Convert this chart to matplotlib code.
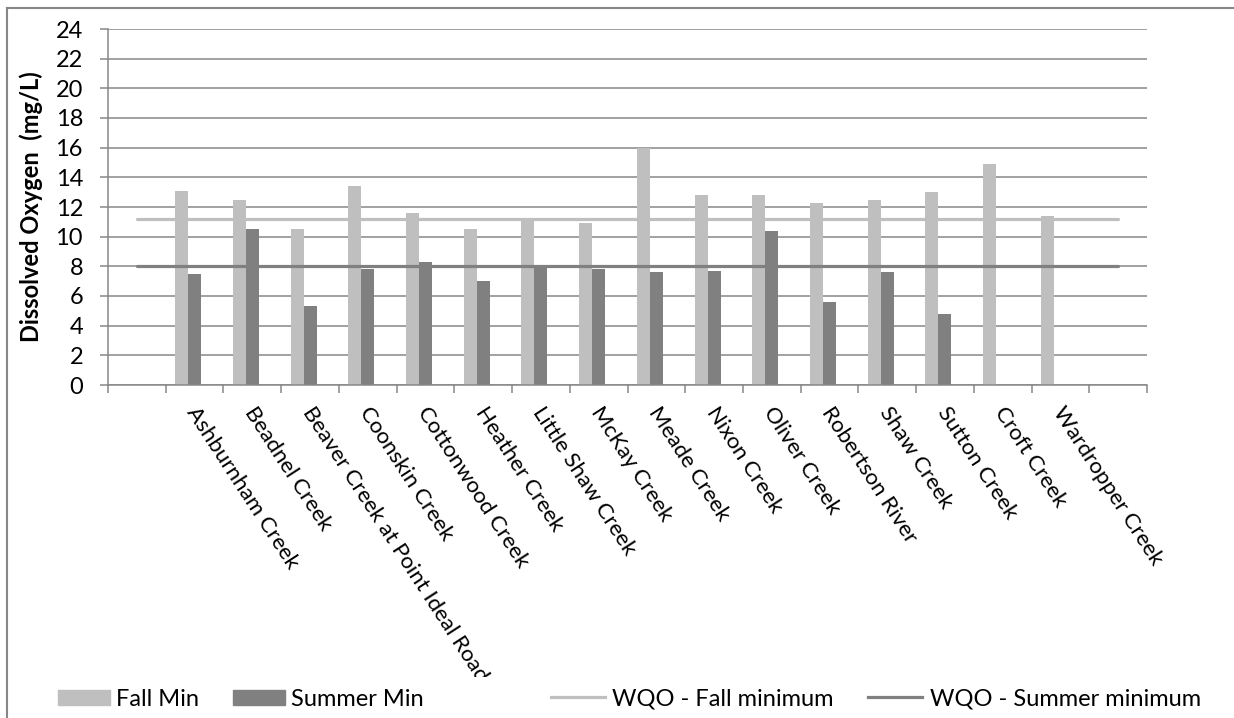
import matplotlib.pyplot as plt
from matplotlib.lines import Line2D
from matplotlib.patches import Patch
from matplotlib.transforms import ScaledTranslation, Bbox, TransformedBbox
import numpy as np

plt.rcParams['font.family'] = ['Lato', 'DejaVu Sans']

# first and last slots on the category axis are left empty
sites = ['', 'Ashburnham Creek', 'Beadnel Creek', 'Beaver Creek at Point Ideal Road',
         'Coonskin Creek', 'Cottonwood Creek', 'Heather Creek', 'Little Shaw Creek',
         'McKay Creek', 'Meade Creek', 'Nixon Creek', 'Oliver Creek', 'Robertson River',
         'Shaw Creek', 'Sutton Creek', 'Croft Creek', 'Wardropper Creek', '']
fall_min = [np.nan, 13.1, 12.5, 10.5, 13.4, 11.6, 10.5, 11.2, 10.9, 16.0, 12.8, 12.8,
            12.3, 12.5, 13.0, 14.9, 11.4, np.nan]
summer_min = [np.nan, 7.5, 10.5, 5.3, 7.8, 8.3, 7.0, 8.1, 7.8, 7.6, 7.7, 10.4,
              5.6, 7.6, 4.8, np.nan, np.nan, np.nan]
wqo_fall = [11.2, 11.2, 11.2, 11.2, 11.2, 11.2, 11.2, 11.2, 11.2, 11.2, 11.2, 11.2,
            11.2, 11.2, 11.2, 11.2, 11.2, 11.2]
wqo_summer = [8, 8, 8, 8, 8, 8, 8, 8, 8, 8, 8, 8, 8, 8, 8, 8, 8, 8]

light = '#bfbfbf'
dark = '#808080'
grid = '#878787'
fs = 17

fig = plt.figure(figsize=(12.34, 7.18), dpi=100)
ax = fig.add_axes([108 / 1234, 1 - 385 / 718, (1147 - 108) / 1234, (385 - 29) / 718])

x = np.arange(len(sites))
w = 0.225
ax.bar(x - w, fall_min, width=w, color=light, zorder=2)
ax.bar(x, summer_min, width=w, color=dark, zorder=2)
ax.plot(x, wqo_fall, color=light, lw=2.3, zorder=3, solid_capstyle='round')
ax.plot(x, wqo_summer, color=dark, lw=2.3, zorder=3, solid_capstyle='round')

ax.set_xlim(-0.5, len(sites) - 0.5)
ax.set_ylim(0, 24)
ax.set_yticks(range(0, 25, 2))
ax.yaxis.grid(True, color=grid, lw=1.1, zorder=0)
ax.set_axisbelow(True)

ax.set_xticks(np.arange(-0.5, len(sites), 1))
ax.set_xticklabels([])
ax.set_xticks(x, minor=True)
ax.set_xticklabels(sites, minor=True)
ax.tick_params(axis='x', which='minor', length=0, pad=13)
ax.tick_params(axis='x', which='major', length=6, width=1.1, color=grid)
ax.tick_params(axis='y', length=6, width=1.1, color=grid, pad=12, labelsize=fs)

# category labels run down to the legend row and get cut there
shift = ScaledTranslation(5 / 100, 0, fig.dpi_scale_trans)
label_area = TransformedBbox(Bbox([[0, 41 / 718], [1, 1]]), fig.transFigure)
for lab in ax.get_xticklabels(minor=True):
    lab.set_rotation(-57)
    lab.set_ha('left')
    lab.set_va('top')
    lab.set_rotation_mode('anchor')
    lab.set_fontsize(16)
    lab.set_transform(lab.get_transform() + shift)
    lab.set_clip_box(label_area)
    lab.set_clip_on(True)

for side in ['top', 'right']:
    ax.spines[side].set_visible(False)
for side in ['left', 'bottom']:
    ax.spines[side].set_color(grid)
    ax.spines[side].set_linewidth(1.1)

ax.set_ylabel('Dissolved Oxygen  (mg/L)', fontsize=fs, fontweight='bold', labelpad=9)

# legend: bars on the left, objective lines on the right
bar_handles = [Patch(color=light), Patch(color=dark)]
fig.legend(bar_handles, ['Fall Min', 'Summer Min'], loc='center left',
           bbox_to_anchor=(58 / 1234, 1 - 699 / 718), ncol=2, frameon=False,
           fontsize=fs, handlelength=2.2, handleheight=0.6, handletextpad=0.25,
           columnspacing=1.45, borderpad=0, borderaxespad=0)
line_handles = [Line2D([], [], color=light, lw=2.3), Line2D([], [], color=dark, lw=2.3)]
fig.legend(line_handles, ['WQO - Fall minimum', 'WQO - Summer minimum'],
           loc='center left', bbox_to_anchor=(551 / 1234, 1 - 699 / 718), ncol=2,
           frameon=False, fontsize=fs, handlelength=2.3, handletextpad=0.3,
           columnspacing=1.45, borderpad=0, borderaxespad=0)

# chart frame along the top and left edges
fig.add_artist(Line2D([7 / 1234, 7 / 1234], [0, 1 - 8 / 718], color=grid, lw=1.5,
                      transform=fig.transFigure))
fig.add_artist(Line2D([7 / 1234, 1], [1 - 8 / 718, 1 - 8 / 718], color=grid, lw=1.5,
                      transform=fig.transFigure))

fig.savefig('out.png', dpi=100)
